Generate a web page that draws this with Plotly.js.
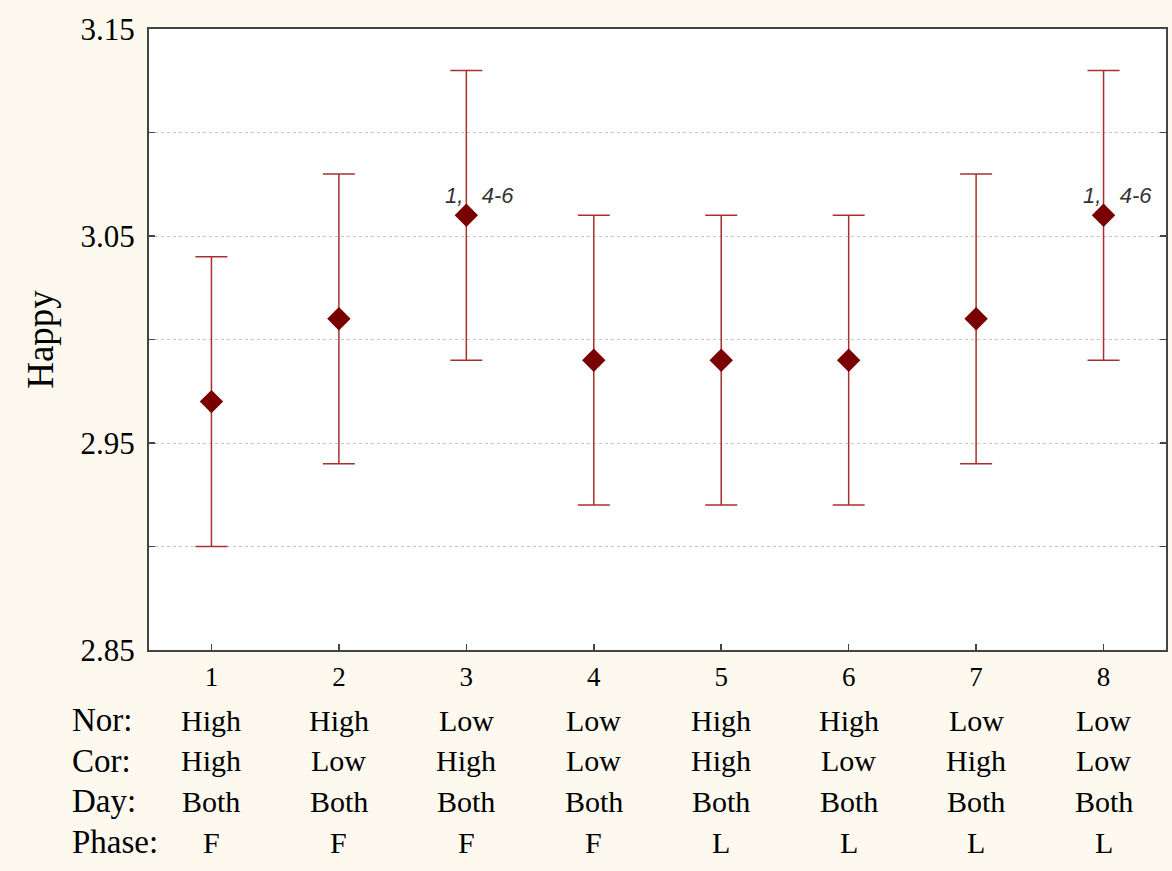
<!DOCTYPE html>
<html>
<head>
<meta charset="utf-8">
<script src="https://cdn.plot.ly/plotly-3.0.1.min.js"></script>
<style>html,body{margin:0;padding:0;background:#FDF9EF;}</style>
</head>
<body>
<div id="chart" style="width:1172px;height:871px;"></div>
<script>
// Data
const groups = [1, 2, 3, 4, 5, 6, 7, 8];
const means = [2.97, 3.01, 3.06, 2.99, 2.99, 2.99, 3.01, 3.06];
const upper = [3.04, 3.08, 3.13, 3.06, 3.06, 3.06, 3.08, 3.13];
const lower = [2.90, 2.94, 2.99, 2.92, 2.92, 2.92, 2.94, 2.99];
const norLevels = ["High", "High", "Low", "Low", "High", "High", "Low", "Low"];
const corLevels = ["High", "Low", "High", "Low", "High", "Low", "High", "Low"];
const dayLevels = ["Both", "Both", "Both", "Both", "Both", "Both", "Both", "Both"];
const phaseLevels = ["F", "F", "F", "F", "L", "L", "L", "L"];
const rowLabels = ["Nor:", "Cor:", "Day:", "Phase:"];
const sigLabels = ["", "", "1,\u00a0\u00a0\u00a04-6", "", "", "", "", "1,\u00a0\u00a0\u00a04-6"];

const plus = upper.map((u, i) => u - means[i]);
const minus = lower.map((l, i) => means[i] - l);

const trace = {
  x: groups,
  y: means,
  type: 'scatter',
  mode: 'markers',
  marker: {symbol: 'diamond', size: 18, color: '#7A0000'},
  error_y: {type: 'data', symmetric: false, array: plus, arrayminus: minus,
            color: '#A83030', thickness: 1.5, width: 16},
  hoverinfo: 'skip'
};

const ml = 149, mr = 6, mt = 29, mb = 221, H = 871, W = 1172;
const plotH = H - mt - mb, plotW = W - ml - mr;
const pyFromPix = p => (H - mb - p) / plotH;
const pxFromPix = p => (p - ml) / plotW;
const serif = 'Liberation Serif, Times New Roman, serif';

const annotations = [];
const rows = [norLevels, corLevels, dayLevels, phaseLevels];
const rowPix = [720, 761, 801, 842];
rows.forEach((row, r) => {
  annotations.push({xref: 'paper', yref: 'paper', x: pxFromPix(70), y: pyFromPix(rowPix[r]),
    xanchor: 'left', yanchor: 'middle', text: rowLabels[r], showarrow: false,
    font: {family: serif, size: 33, color: '#000'}});
  row.forEach((v, i) => {
    annotations.push({xref: 'x', yref: 'paper', x: groups[i], y: pyFromPix(rowPix[r]),
      xanchor: 'center', yanchor: 'middle', text: v, showarrow: false,
      font: {family: serif, size: 30, color: '#000'}});
  });
});
sigLabels.forEach((s, i) => {
  if (!s) return;
  annotations.push({xref: 'x', yref: 'y', x: groups[i], y: means[i], xanchor: 'left', yanchor: 'bottom',
    xshift: -23, yshift: 5, text: '<i>' + s + '</i>', showarrow: false,
    font: {family: 'Liberation Sans, Arial, sans-serif', size: 22, color: '#333'}});
});

const layout = {
  width: W, height: H,
  paper_bgcolor: '#FDF9EF',
  plot_bgcolor: '#FFFFFF',
  margin: {l: ml, r: mr, t: mt, b: mb},
  showlegend: false,
  xaxis: {
    range: [0.51, 8.49], tickvals: groups, ticktext: groups.map(String),
    ticks: 'inside', ticklen: 6, tickcolor: '#444', tickwidth: 1.5,
    showline: true, linecolor: '#444', linewidth: 2, mirror: true,
    showgrid: false, zeroline: false,
    tickfont: {family: serif, size: 27, color: '#000'},
    ticklabelstandoff: 2
  },
  yaxis: {
    range: [2.85, 3.15], tick0: 2.85, dtick: 0.1, tickformat: '.2f',
    ticks: 'inside', ticklen: 6, tickcolor: '#444', tickwidth: 1.5,
    showline: true, linecolor: '#444', linewidth: 2, mirror: 'ticks',
    showgrid: true, gridcolor: '#C4C4C4', griddash: 'dot', gridwidth: 1,
    zeroline: false,
    minor: {dtick: 0.05, tick0: 2.85, ticks: 'inside', ticklen: 6, tickcolor: '#444', tickwidth: 1.5,
            showgrid: true, gridcolor: '#C4C4C4', griddash: 'dot', gridwidth: 1},
    tickfont: {family: serif, size: 31, color: '#000'},
    ticklabelstandoff: 6,
    title: {text: 'Happy', standoff: 16,
            font: {family: serif, size: 37, color: '#000'}}
  },
  annotations: annotations
};

Plotly.newPlot('chart', [trace], layout, {displayModeBar: false, staticPlot: true});
</script>
</body>
</html>
